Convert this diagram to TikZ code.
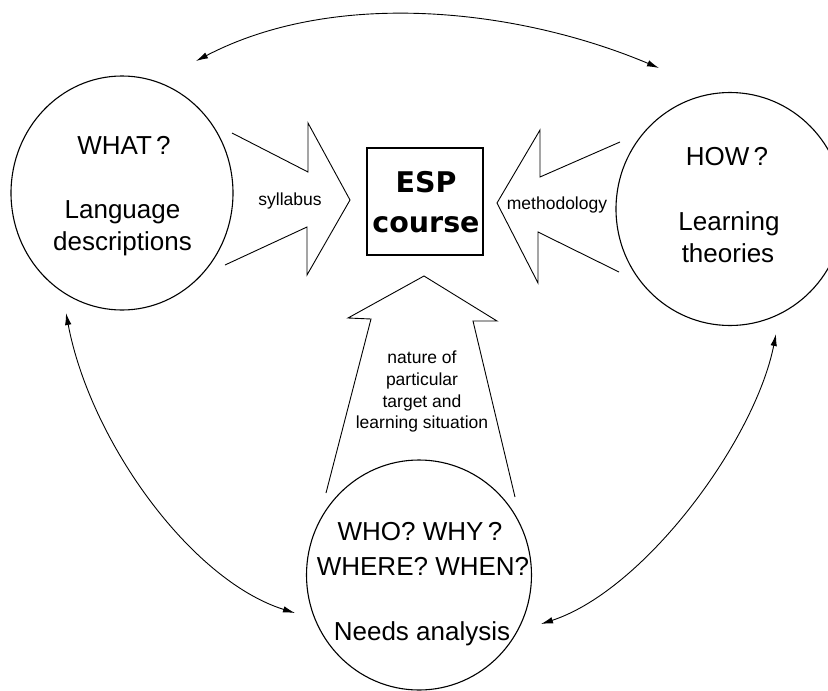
\documentclass[tikz,border=0pt]{standalone}
\usepackage{fontspec}
\setmainfont{Liberation Sans}
\newfontfamily\espfont{DejaVu Sans}
\usetikzlibrary{shapes.geometric,arrows.meta}
\begin{document}
\begin{tikzpicture}[x=1pt,y=-1pt,
  bubble/.style={draw,line width=1.1pt,ellipse,inner sep=0pt},
  bigtxt/.style={anchor=base,inner sep=0pt,font=\fontsize{26}{31}\selectfont},
  smalltxt/.style={anchor=base,inner sep=0pt,font=\fontsize{17.5}{21}\selectfont},
  esptxt/.style={anchor=base,inner sep=0pt,font=\espfont\bfseries\fontsize{28.5}{32}\selectfont},
  fatarrow/.style={draw,line width=0.9pt,line join=miter},
  link/.style={draw,line width=0.9pt,{Latex[length=12pt,width=6.5pt]}-{Latex[length=12pt,width=6.5pt]}}]
\useasboundingbox (0,0) rectangle (828,691);
\clip (0,0) rectangle (828,691);

% circles
\node[bubble,minimum width=222pt,minimum height=234pt] (what) at (122,193) {};
\node[bubble,minimum width=228pt,minimum height=233pt] (how) at (730,209) {};
\node[bubble,minimum width=225pt,minimum height=230pt] (who) at (419,575) {};

% ESP box
\node[draw,line width=1.2pt,minimum width=116pt,minimum height=107pt,inner sep=0pt] (esp) at (425,201.5) {};
\node[esptxt] (espa) at (426,192) {ESP};
\node[esptxt] (espb) at (426,232) {course};

% circle texts
\node[bigtxt] (t1) at (124,154) {WHAT\,?};
\node[bigtxt] (t2) at (122.5,218) {Language};
\node[bigtxt] (t3) at (122.5,250) {descriptions};
\node[bigtxt] (t4) at (727,165) {HOW\,?};
\node[bigtxt] (t5) at (729,230) {Learning};
\node[bigtxt] (t6) at (728,262) {theories};
\node[bigtxt] (t7) at (420,540) {WHO? WHY\,?};
\node[bigtxt] (t8) at (423,575) {WHERE? WHEN?};
\node[bigtxt] (t9) at (422,640) {Needs analysis};

% fat arrows
\draw[fatarrow] (232,133) -- (308,172) -- (308,123) -- (350,200) -- (307,275) -- (307,227) -- (225,265);
\draw[fatarrow] (620,142) -- (540,177) -- (540,130) -- (497,203) -- (538,283) -- (538,232) -- (619,272);
\draw[fatarrow] (326,493) -- (371,319) -- (348,318) -- (424,276) -- (497,321) -- (473,321) -- (515,497);

\node[smalltxt] (l1) at (290,205) {syllabus};
\node[smalltxt] (l2) at (557,209) {methodology};
\node[smalltxt] (l3) at (422,363) {nature of};
\node[smalltxt] (l4) at (422,385) {particular};
\node[smalltxt] (l5) at (422,407) {target and};
\node[smalltxt] (l6) at (422,428) {learning situation};

% connector end points
\coordinate (a1) at (196,61);
\coordinate (a2) at (659,68);
\coordinate (b1) at (66,313);
\coordinate (b2) at (295,613);
\coordinate (c1) at (776,334);
\coordinate (c2) at (541,624);

\draw[link] (a1) .. controls (336,-12) and (519,9) .. (a2);
\draw[link] (b1) .. controls (90,440) and (190,580) .. (b2);
\draw[link] (c1) .. controls (755,440) and (645,590) .. (c2);
\end{tikzpicture}
\end{document}
